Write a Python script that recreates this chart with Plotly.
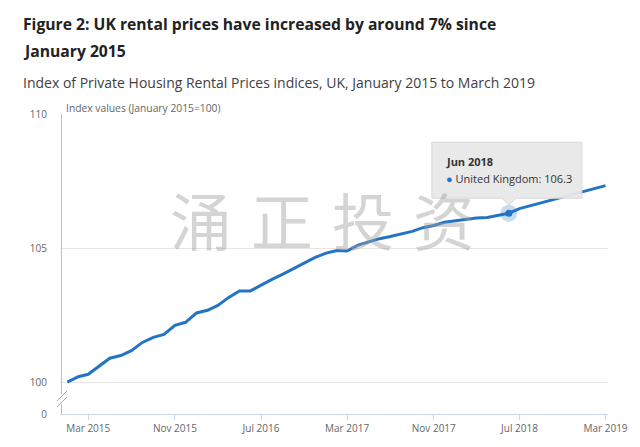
import plotly.graph_objects as go
import pandas as pd

# monthly index, Jan 2015 = 100
months = pd.date_range("2015-01-01", "2019-03-01", freq="MS")
uk_index = [
    100.0, 100.2, 100.29, 100.6, 100.89, 100.99, 101.17, 101.48, 101.67, 101.78, 102.12, 102.23,
    102.58, 102.68, 102.86, 103.16, 103.4, 103.4, 103.62, 103.83, 104.03, 104.23, 104.44, 104.65,
    104.81, 104.91, 104.89, 105.11, 105.23, 105.35, 105.43, 105.52, 105.62, 105.76, 105.84, 105.96,
    106.02, 106.08, 106.12, 106.14, 106.23, 106.3, 106.47, 106.58, 106.69, 106.8, 106.91, 107.02,
    107.12, 107.23, 107.33,
]
tick_dates = ["2015-03-01", "2015-11-01", "2016-07-01", "2017-03-01", "2017-11-01", "2018-07-01", "2019-03-01"]
tick_text = ["Mar 2015", "Nov 2015", "Jul 2016", "Mar 2017", "Nov 2017", "Jul 2018", "Mar 2019"]
y_ticks = [98.81, 100, 105, 110]   # 98.81 stands in for 0 below the axis break
y_text = ["0", "100", "105", "110"]

hl_date = "2018-06-01"
hl_value = 106.3

watermark = ["涌", "正", "投", "资"]

blue = "#2474c6"
font = "Open Sans"

fig = go.Figure()
fig.add_trace(go.Scatter(x=months, y=uk_index, mode="lines",
                         line=dict(color=blue, width=3), hoverinfo="skip"))
fig.add_trace(go.Scatter(x=[hl_date], y=[hl_value], mode="markers",
                         marker=dict(size=17, color="rgba(36,116,198,0.25)"), hoverinfo="skip"))
fig.add_trace(go.Scatter(x=[hl_date], y=[hl_value], mode="markers",
                         marker=dict(size=7, color=blue), hoverinfo="skip"))

# page body adds 8px, so the figure is 8px smaller and margins shifted
fig.update_layout(
    width=632, height=439,
    margin=dict(l=54, r=29, t=106, b=24),
    paper_bgcolor="white", plot_bgcolor="white",
    showlegend=False,
    font=dict(family=font),
)
fig.update_xaxes(
    type="date", range=["2014-12-17", "2019-03-08"],
    tickvals=tick_dates, ticktext=tick_text,
    tickfont=dict(size=10, color="#666666"),
    ticks="outside", ticklen=5, tickcolor="#ccd6eb",
    showline=True, linecolor="#ccd6eb", linewidth=1,
    showgrid=False, zeroline=False,
)
fig.update_yaxes(
    range=[98.81, 110], tickvals=y_ticks, ticktext=y_text,
    tickfont=dict(size=10, color="#666666"),
    ticks="", ticklabelstandoff=12,
    showline=True, linecolor="#c0c0c0", linewidth=1,
    showgrid=True, gridcolor="#e6e6e6", zeroline=False,
)

# axis break marks
fig.add_shape(type="line", xref="paper", yref="y", xsizemode="pixel", ysizemode="pixel",
              xanchor=0, yanchor=99.37, x0=0, x1=0, y0=-5, y1=5,
              line=dict(color="white", width=3))
for dy in (-3, 3):
    fig.add_shape(type="line", xref="paper", yref="y", xsizemode="pixel", ysizemode="pixel",
                  xanchor=0, yanchor=99.37, x0=-5, x1=5, y0=dy - 5, y1=dy + 5,
                  line=dict(color="#aaaaaa", width=1))

# watermark, one glyph each (drawn before the tooltip)
for i, ch in enumerate(watermark):
    fig.add_annotation(xref="paper", yref="paper", x=0.255 + i * 0.148, y=0.65,
                       xanchor="center", yanchor="middle",
                       text=ch, showarrow=False, borderpad=0,
                       font=dict(size=62, color="rgba(160,160,160,0.45)", family="Noto Sans CJK SC"))

# tooltip box with pointer
fig.add_shape(type="path", xref="x", yref="y", xsizemode="pixel", ysizemode="pixel",
              xanchor=hl_date, yanchor=hl_value,
              path="M-77,71 L73,71 L73,15 L7,15 L0,8 L-7,15 L-77,15 Z",
              fillcolor="rgba(232,232,232,0.95)", line=dict(color="#d8d8d8", width=1), layer="above")
fig.add_annotation(x=hl_date, y=hl_value, xref="x", yref="y", text="<b>Jun 2018</b>",
                   showarrow=False, xanchor="left", yanchor="middle", xshift=-64, yshift=52,
                   borderpad=0, font=dict(size=11, color="#333333"))
fig.add_annotation(x=hl_date, y=hl_value, xref="x", yref="y",
                   text=f"<span style='color:{blue}'>●</span> United Kingdom: {hl_value}",
                   showarrow=False, xanchor="left", yanchor="middle", xshift=-64, yshift=35,
                   borderpad=0, font=dict(size=11, color="#333333"))

# titles
fig.add_annotation(xref="paper", yref="paper", x=-0.076, y=1 + (114 - 24) / 301,
                   text="<b>Figure 2: UK rental prices have increased by around 7% since</b>",
                   showarrow=False, xanchor="left", yanchor="middle",
                   font=dict(size=15.7, color="#222222"))
fig.add_annotation(xref="paper", yref="paper", x=-0.076, y=1 + (114 - 51) / 301,
                   text="<b>January 2015</b>",
                   showarrow=False, xanchor="left", yanchor="middle",
                   font=dict(size=15.7, color="#222222"))
fig.add_annotation(xref="paper", yref="paper", x=-0.076, y=1 + (114 - 82) / 301,
                   text="Index of Private Housing Rental Prices indices, UK, January 2015 to March 2019",
                   showarrow=False, xanchor="left", yanchor="middle",
                   font=dict(size=14, color="#414042"))
fig.add_annotation(xref="paper", yref="paper", x=0.003, y=1 + (114 - 108) / 301,
                   text="Index values (January 2015=100)",
                   showarrow=False, xanchor="left", yanchor="middle",
                   font=dict(size=10.3, color="#666666"))

fig.write_html("out.html")
